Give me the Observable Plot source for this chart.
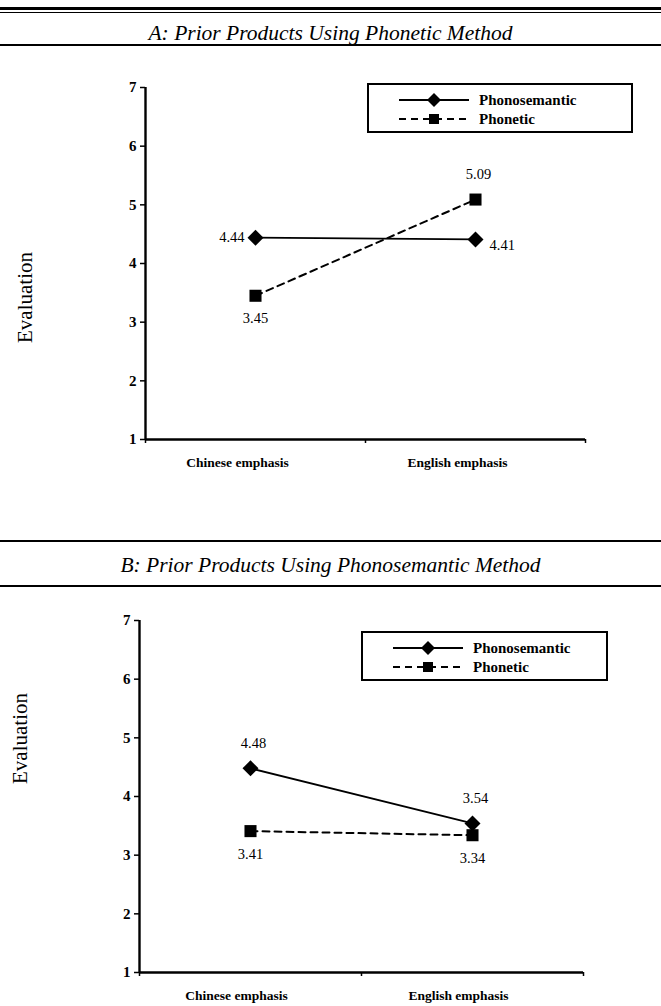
<!DOCTYPE html>
<html>
<head>
<meta charset="utf-8">
<script src="https://cdn.jsdelivr.net/npm/d3@7"></script>
<script src="https://cdn.jsdelivr.net/npm/@observablehq/plot@0.6"></script>
<style>
  html, body { margin: 0; padding: 0; background: #fff; }
  #page { position: relative; width: 661px; height: 1006px; overflow: hidden; font-family: "Liberation Serif", "Times New Roman", serif; color: #000; }
  .rule { position: absolute; left: 0; width: 661px; background: #000; }
  .title { position: absolute; left: 0; width: 661px; text-align: center; font-style: italic; font-size: 21.5px; line-height: 24px; }
  .legend { position: absolute; border: 2px solid #000; box-sizing: border-box; background: #fff; }
  .legend .row { position: absolute; left: 0; height: 18px; width: 100%; }
  .legend svg { position: absolute; left: 30px; top: 0; }
  .legend span { position: absolute; font-weight: bold; font-size: 15px; line-height: 18px; }
</style>
</head>
<body>
<div id="page"></div>
<script>
// ---------- data ----------
const categories = ["Chinese emphasis", "English emphasis"];
const series = ["Phonosemantic", "Phonetic"];
const yTicks = [1, 2, 3, 4, 5, 6, 7];
const titleA = "A: Prior Products Using Phonetic Method";
const titleB = "B: Prior Products Using Phonosemantic Method";
const yLabel = "Evaluation";
const panelA_phonosemantic = [4.44, 4.41];
const panelA_phonetic = [3.45, 5.09];
const panelB_phonosemantic = [4.48, 3.54];
const panelB_phonetic = [3.41, 3.34];
// where each value label sits relative to its marker
const labelSideA = { Phonosemantic: ["left", "right"], Phonetic: ["below", "above"] };
const labelSideB = { Phonosemantic: ["above", "above"], Phonetic: ["below", "below"] };

// ---------- helpers ----------
const page = document.getElementById("page");
const FONT = "'Liberation Serif', 'Times New Roman', serif";

function el(tag, cls, style, text) {
  const e = document.createElement(tag);
  if (cls) e.className = cls;
  Object.assign(e.style, style || {});
  if (text != null) e.textContent = text;
  return e;
}

function panel({ sem, pho, sides, top, height, marginTop, marginBottom, marginLeft, marginRight, evalDx, evalDy, catDx }) {
  const pts = [];
  series.forEach((s, si) => {
    const vals = si === 0 ? sem : pho;
    vals.forEach((v, i) => pts.push({ series: s, cat: categories[i], xi: i + 0.5, v, side: sides[s][i] }));
  });
  const semPts = pts.filter(d => d.series === series[0]);
  const phoPts = pts.filter(d => d.series === series[1]);
  const lbl = d => d.v.toFixed(2);
  const chart = Plot.plot({
    width: 661,
    height,
    marginTop, marginBottom, marginLeft, marginRight,
    style: { fontFamily: FONT, background: "transparent", color: "#000", overflow: "visible" },
    x: { domain: [0, categories.length], axis: null },
    y: { domain: [yTicks[0], yTicks[yTicks.length - 1]], axis: null },
    marks: [
      Plot.axisY({ ticks: yTicks, tickFormat: d3.format("d"), tickSize: 5, tickPadding: 4, fontSize: 15, fontWeight: "bold", label: null, strokeWidth: 1.5 }),
      Plot.axisX({ ticks: [0, 1, 2], tickSize: 4, tickFormat: () => "", label: null, strokeWidth: 1.5 }),
      Plot.ruleX([0], { stroke: "#000", strokeWidth: 2.4 }),
      Plot.ruleY([yTicks[0]], { stroke: "#000", strokeWidth: 2.4 }),
      Plot.text(categories, { x: (d, i) => i + 0.5, y: yTicks[0], dy: 23, dx: catDx, fontSize: 13.5, fontWeight: "bold", wordSpacing: "3px" }),
      Plot.text([yLabel], { frameAnchor: "left", rotate: -90, textAnchor: "middle", dx: evalDx, dy: evalDy, fontSize: 21 }),
      Plot.line(semPts, { x: "xi", y: "v", stroke: "#000", strokeWidth: 1.8 }),
      Plot.line(phoPts, { x: "xi", y: "v", stroke: "#000", strokeWidth: 2, strokeDasharray: "7,5" }),
      Plot.dot(semPts, { x: "xi", y: "v", symbol: "diamond2", r: 7.2, fill: "#000", stroke: "none" }),
      Plot.dot(phoPts, { x: "xi", y: "v", symbol: "square", r: 6.8, fill: "#000", stroke: "none" }),
      Plot.text(pts.filter(d => d.side === "left"), { x: "xi", y: "v", text: lbl, textAnchor: "end", dx: -11, fontSize: 14.5 }),
      Plot.text(pts.filter(d => d.side === "right"), { x: "xi", y: "v", text: lbl, textAnchor: "start", dx: 14, dy: 6, fontSize: 14.5 }),
      Plot.text(pts.filter(d => d.side === "above"), { x: "xi", y: "v", text: lbl, dy: -25, dx: 3, fontSize: 14.5 }),
      Plot.text(pts.filter(d => d.side === "below"), { x: "xi", y: "v", text: lbl, dy: 23, fontSize: 14.5 })
    ]
  });
  chart.style.position = "absolute";
  chart.style.left = "0px";
  chart.style.top = top + "px";
  page.appendChild(chart);
}

function legend({ left, top, width, height }) {
  const box = el("div", "legend", { left: left + "px", top: top + "px", width: width + "px", height: height + "px" });
  series.forEach((s, i) => {
    const row = el("div", "row", { top: (6 + i * 19) + "px" });
    const ns = "http://www.w3.org/2000/svg";
    const svg = document.createElementNS(ns, "svg");
    svg.setAttribute("width", 72); svg.setAttribute("height", 18);
    const line = document.createElementNS(ns, "line");
    line.setAttribute("x1", 0); line.setAttribute("x2", 70); line.setAttribute("y1", 9); line.setAttribute("y2", 9);
    line.setAttribute("stroke", "#000"); line.setAttribute("stroke-width", i === 0 ? 1.8 : 2);
    if (i === 1) line.setAttribute("stroke-dasharray", "7,5");
    svg.appendChild(line);
    const sym = document.createElementNS(ns, "path");
    sym.setAttribute("d", i === 0 ? "M35,2L42,9L35,16L28,9Z" : "M30,4h10v10h-10Z");
    sym.setAttribute("fill", "#000");
    svg.appendChild(sym);
    row.appendChild(svg);
    row.appendChild(el("span", null, { left: "110px", top: "0px" }, s));
    box.appendChild(row);
  });
  page.appendChild(box);
}

// ---------- panel A ----------
panel({ sem: panelA_phonosemantic, pho: panelA_phonetic, sides: labelSideA,
  top: 0, height: 500, marginTop: 87, marginBottom: 61, marginLeft: 145, marginRight: 76,
  evalDx: -120, evalDy: 34, catDx: -18 });
legend({ left: 367, top: 83, width: 266, height: 50 });

// ---------- panel B ----------
panel({ sem: panelB_phonosemantic, pho: panelB_phonetic, sides: labelSideB,
  top: 520, height: 486, marginTop: 100, marginBottom: 34, marginLeft: 139, marginRight: 78,
  evalDx: -119, evalDy: -58, catDx: -14 });
legend({ left: 361, top: 631, width: 247, height: 50 });

// ---------- headers ----------
page.appendChild(el("div", "rule", { top: "7px", height: "3px" }));
page.appendChild(el("div", "rule", { top: "12px", height: "1px" }));
page.appendChild(el("div", "title", { top: "21px" }, titleA));
page.appendChild(el("div", "rule", { top: "44px", height: "2px" }));

page.appendChild(el("div", "rule", { top: "540px", height: "2px" }));
page.appendChild(el("div", "title", { top: "553px" }, titleB));
page.appendChild(el("div", "rule", { top: "585px", height: "2px" }));
</script>
</body>
</html>
